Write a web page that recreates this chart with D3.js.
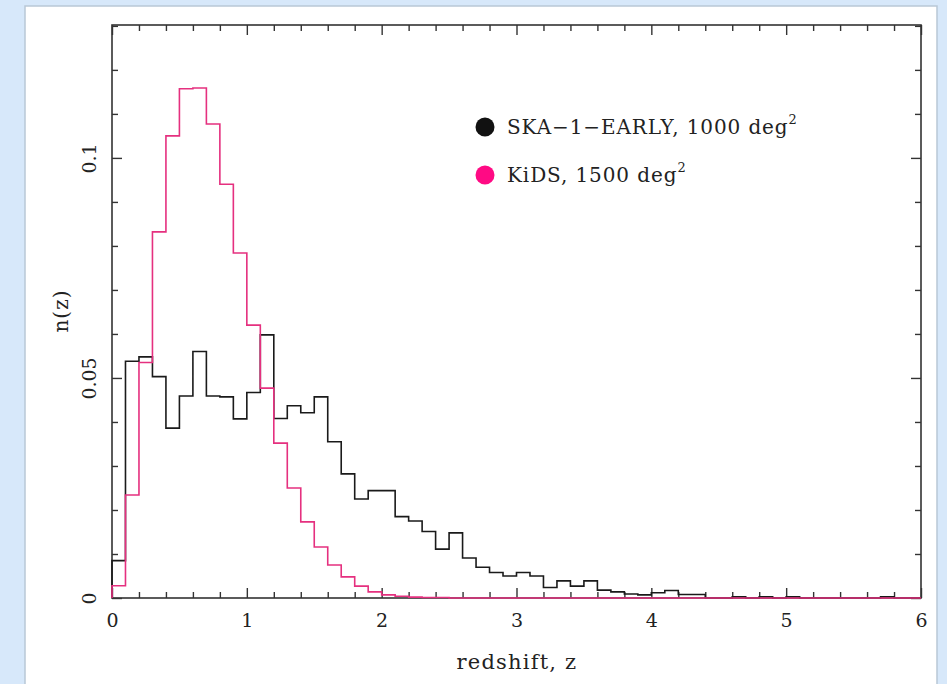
<!DOCTYPE html>
<html><head><meta charset="utf-8">
<script src="https://cdn.jsdelivr.net/npm/d3@7"></script>
<style>
html,body{margin:0;padding:0;background:#d7e8fa;}
svg{display:block;}
</style></head>
<body>
<svg id="c" width="947" height="684"></svg>
<script>
// bins of width 0.1 from z=0 to z=6
const binWidth = 0.1;
const skaValues = [
0.0085, 0.0538, 0.0548, 0.0503, 0.0386, 0.0459, 0.0560, 0.0459, 0.0457, 0.0407,
0.0467, 0.0598, 0.0408, 0.0437, 0.0421, 0.0457, 0.0355, 0.0282, 0.0225, 0.0244,
0.0244, 0.0185, 0.0175, 0.0151, 0.0111, 0.0148, 0.0091, 0.0070, 0.0058, 0.0050,
0.0058, 0.0050, 0.0024, 0.0039, 0.0027, 0.0039, 0.0018, 0.0014, 0.0009, 0.0007,
0.0012, 0.0017, 0.0008, 0.0008, 0, 0, 0.0003, 0, 0.0003, 0,
0.0003, 0, 0, 0, 0, 0, 0, 0.0003, 0, 0];
const kidsValues = [
0.0028, 0.0234, 0.0535, 0.0832, 0.1050, 0.1157, 0.1159, 0.1077, 0.0940, 0.0784,
0.0620, 0.0477, 0.0352, 0.0250, 0.0173, 0.0116, 0.0075, 0.0048, 0.0027, 0.0014,
0.0007, 0.0004, 0.0002, 0.0001, 0.0001, 0, 0, 0, 0, 0,
0, 0, 0, 0, 0, 0, 0, 0, 0, 0,
0, 0, 0, 0, 0, 0, 0, 0, 0, 0,
0, 0, 0, 0, 0, 0, 0, 0, 0, 0];
const xTicks = [0, 1, 2, 3, 4, 5, 6];
const yTicks = [0, 0.05, 0.1];
const yTickLabels = ["0", "0.05", "0.1"];
const seriesNames = ["SKA\u22121\u2212EARLY, 1000 deg", "KiDS, 1500 deg"];
const seriesColors = ["#111111", "#ff0a84"];
const lineColors = ["#1a1a1a", "#e5307f"];

const svg = d3.select("#c");
const m = {l:112, r:921, t:25, b:598};
const x = d3.scaleLinear().domain([0, 6]).range([m.l, m.r]);
const y = d3.scaleLinear().domain([0, 0.1302]).range([m.b, m.t]);

// panel
svg.append("rect").attr("x", 25).attr("y", 6).attr("width", 912).attr("height", 700)
  .attr("fill", "#ffffff").attr("stroke", "#b9c7d6").attr("stroke-width", 1.5);

const serif = "'DejaVu Serif', 'Liberation Serif', serif";

function pts(vals){
  const p = [[0,0]];
  vals.forEach((v,i)=>p.push([i*binWidth, v]));
  p.push([vals.length*binWidth, vals[vals.length-1]]);
  return p;
}
const line = d3.line().x(d=>x(d[0])).y(d=>y(d[1])).curve(d3.curveStepAfter);

// frame
svg.append("rect").attr("x", m.l).attr("y", m.t).attr("width", m.r-m.l).attr("height", m.b-m.t)
  .attr("fill", "none").attr("stroke", "#333").attr("stroke-width", 1.6);

const xMinor = d3.range(0, 6.0001, 0.2).filter(v=>Math.abs(v-Math.round(v))>1e-6);
const yMinor = d3.range(0, 0.1301, 0.01).filter(v=>Math.abs(v/0.05-Math.round(v/0.05))>1e-6);
const yMajor = [0, 0.05, 0.1];

function addAxis(gen, tx, ty){
  const g = svg.append("g").attr("transform", `translate(${tx},${ty})`).call(gen);
  g.select(".domain").remove();
  g.selectAll(".tick line").attr("stroke", "#333").attr("stroke-width", 1.4);
  return g;
}
addAxis(d3.axisBottom(x).tickValues(xMinor).tickSize(-6).tickFormat(""), 0, m.b);
addAxis(d3.axisTop(x).tickValues(xMinor).tickSize(-6).tickFormat(""), 0, m.t);
addAxis(d3.axisLeft(y).tickValues(yMinor).tickSize(-6).tickFormat(""), m.l, 0);
addAxis(d3.axisRight(y).tickValues(yMinor).tickSize(-6).tickFormat(""), m.r, 0);
addAxis(d3.axisTop(x).tickValues(xTicks).tickSize(-10).tickFormat(""), 0, m.t);
addAxis(d3.axisRight(y).tickValues(yMajor).tickSize(-10).tickFormat(""), m.r, 0);

const gx = addAxis(d3.axisBottom(x).tickValues(xTicks).tickSize(-10).tickPadding(16).tickFormat(d3.format("d")), 0, m.b);
gx.selectAll("text").attr("font-family", serif).attr("font-size", 19).attr("fill", "#222");

const gy = addAxis(d3.axisLeft(y).tickValues(yTicks).tickSize(-10).tickFormat((d,i)=>yTickLabels[i]), m.l, 0);
gy.selectAll(".tick text").attr("font-family", serif).attr("font-size", 19).attr("fill", "#222")
  .attr("x", null).attr("dy", null)
  .attr("text-anchor", "middle")
  .attr("transform", "translate(-16,0) rotate(-90)");

[skaValues, kidsValues].forEach((vals, i)=>{
  svg.append("path").attr("d", line(pts(vals))).attr("fill", "none")
    .attr("stroke", lineColors[i]).attr("stroke-width", 1.6);
});

// axis titles
svg.append("text").attr("x", 517).attr("y", 669).attr("text-anchor", "middle")
  .attr("font-family", serif).attr("font-size", 21).attr("letter-spacing", 1.2).attr("fill", "#222").text("redshift, z");
svg.append("text").attr("transform", `translate(68,311) rotate(-90)`).attr("text-anchor", "middle")
  .attr("font-family", serif).attr("font-size", 20).attr("letter-spacing", 1).attr("fill", "#222").text("n(z)");

// legend
seriesNames.forEach((n, i)=>{
  const ly = 127 + i*48;
  svg.append("circle").attr("cx", 485).attr("cy", ly).attr("r", 9.5).attr("fill", seriesColors[i]);
  const t = svg.append("text").attr("x", 507).attr("y", ly+7).attr("font-family", serif)
    .attr("font-size", 20).attr("letter-spacing", 0.9).attr("fill", "#222");
  t.append("tspan").text(n);
  t.append("tspan").attr("font-size", 13).attr("dy", -10).text("2");
});
</script>
</body></html>
